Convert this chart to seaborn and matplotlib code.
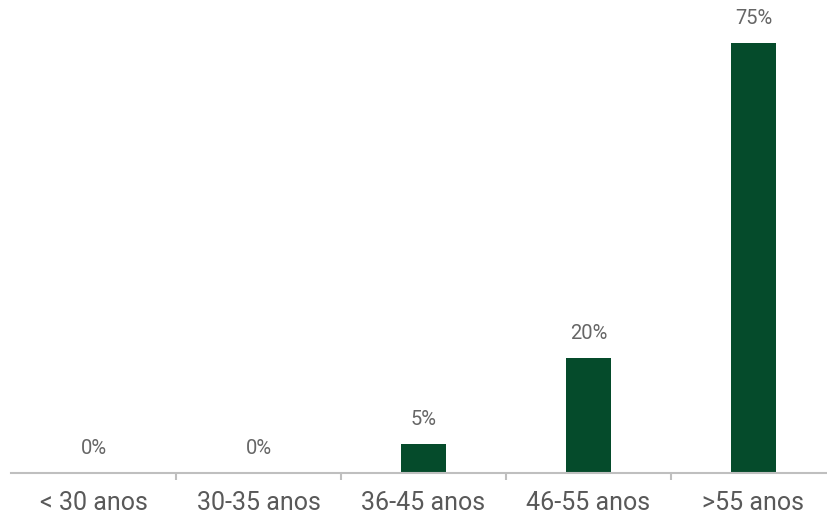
import matplotlib
matplotlib.use("Agg")
import matplotlib.pyplot as plt
import seaborn as sns
import pandas as pd

categories = ["< 30 anos", "30-35 anos", "36-45 anos", "46-55 anos", ">55 anos"]
values = [0, 0, 5, 20, 75]
labels = ["0%", "0%", "5%", "20%", "75%"]

sns.set_theme(style="white")
plt.rcParams['font.family'] = ['Roboto', 'DejaVu Sans']

df = pd.DataFrame({"cat": categories, "val": values})

W, H = 828, 522
fig = plt.figure(figsize=(W/100, H/100), dpi=100)
ax = fig.add_axes([11/W, 49/H, 825/W, 473/H])

sns.barplot(data=df, x="cat", y="val", color="#054b2b", width=0.267, ax=ax,
            saturation=1, edgecolor="none")

ax.set_xlim(-0.5, 4.5)
ax.set_ylim(0, 473/5.733)
for s in ["top", "right", "left"]:
    ax.spines[s].set_visible(False)
ax.spines["bottom"].set_color("#bfbfbf")
ax.spines["bottom"].set_linewidth(1.5)
ax.set_yticks([])
ax.set_xlabel("")
ax.set_ylabel("")
ax.set_xticks(range(len(categories)))
ax.set_xticklabels(categories, fontsize=18, color="#595959")
ax.tick_params(axis="x", which="major", length=0, pad=13)
ax.set_xticks([0.5, 1.5, 2.5, 3.5], minor=True)
ax.tick_params(axis="x", which="minor", bottom=True, length=5, width=1.5,
               color="#bfbfbf", direction="out")

for i, (v, lab) in enumerate(zip(values, labels)):
    ax.annotate(lab, (i, v), xytext=(0, 11), textcoords="offset points",
                ha="center", va="bottom", fontsize=14.5, color="#666666")

fig.savefig("out.png", dpi=100)
